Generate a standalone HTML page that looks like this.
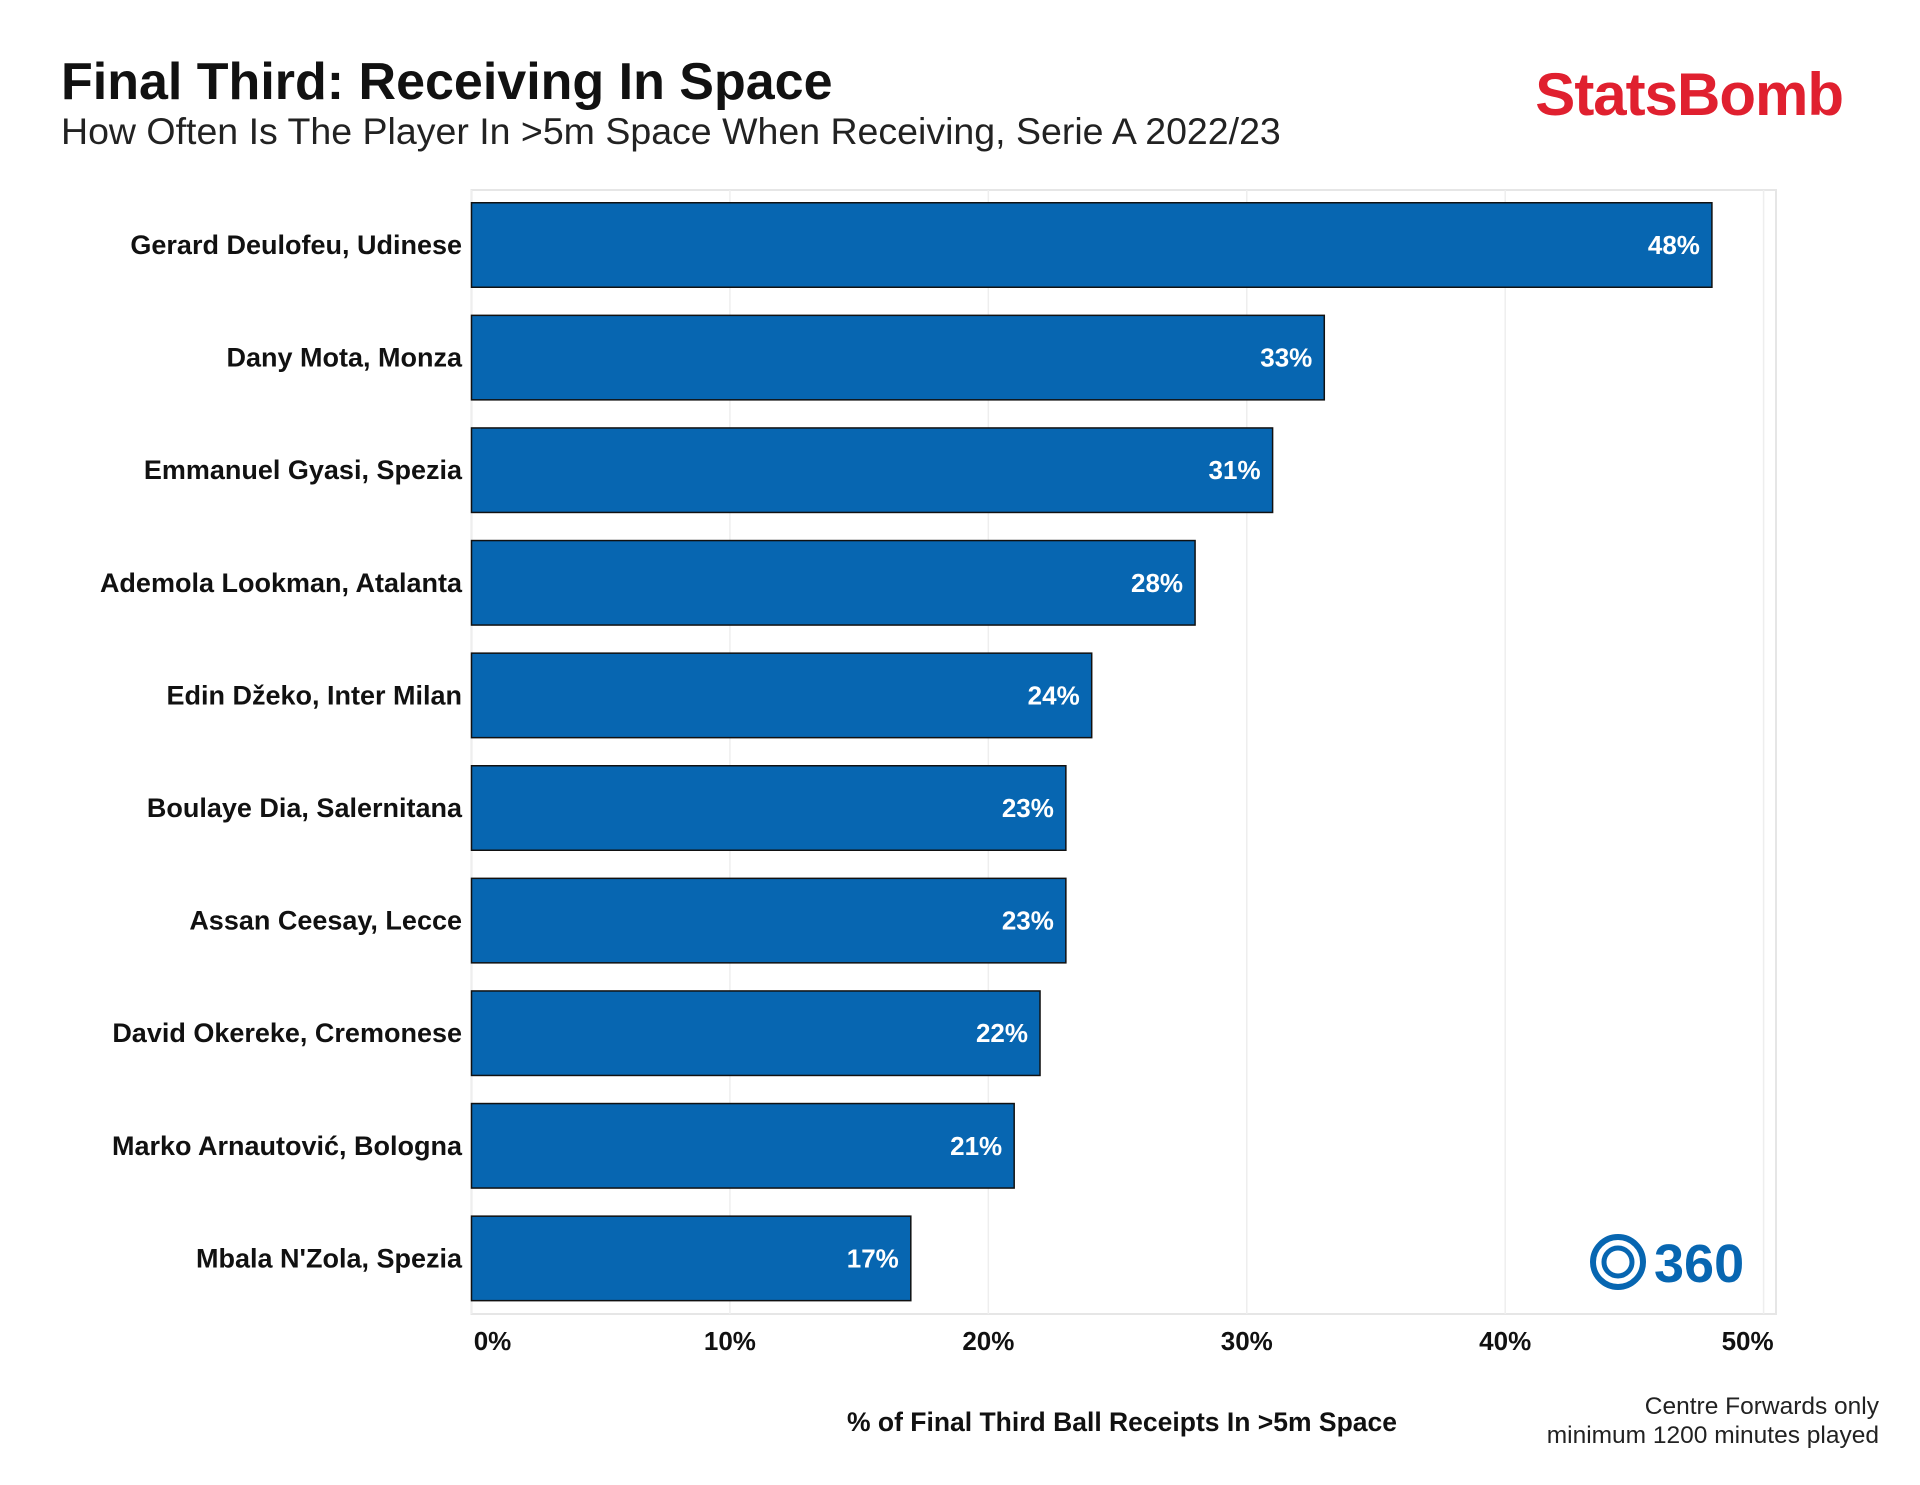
<!DOCTYPE html>
<html><head><meta charset="utf-8"><style>
body{margin:0;width:1920px;height:1485px;background:#fff;overflow:hidden;font-family:"Liberation Sans",sans-serif;}
svg{display:block}
</style></head><body>
<svg id="chart" width="1920" height="1485" xmlns="http://www.w3.org/2000/svg">
<text x="61" y="99" font-size="52" font-weight="bold" fill="#111">Final Third: Receiving In Space</text>
<text x="61" y="144" font-size="37.5" fill="#222">How Often Is The Player In &gt;5m Space When Receiving, Serie A 2022/23</text>
<text x="1843" y="115" text-anchor="end" font-size="60" font-weight="bold" fill="#e0202f" letter-spacing="-1">StatsBomb</text>
<rect x="471.5" y="190" width="1304.5" height="1124" fill="none" stroke="#e6e6e6" stroke-width="2"/>
<g id="grid"></g><g id="bars"></g><g id="labels"></g><g id="ticks"></g>
<g>
<circle cx="1618" cy="1262" r="25" fill="none" stroke="#0766b1" stroke-width="6"/>
<circle cx="1618" cy="1262" r="14" fill="none" stroke="#0766b1" stroke-width="5"/>
<text x="1654" y="1282" font-size="54" font-weight="bold" fill="#0766b1">360</text>
</g>
<text x="1122" y="1431" text-anchor="middle" font-size="26.5" font-weight="bold" fill="#111">% of Final Third Ball Receipts In &gt;5m Space</text>
<text x="1879" y="1414" text-anchor="end" font-size="24.5" fill="#222">Centre Forwards only</text>
<text x="1879" y="1443" text-anchor="end" font-size="24.5" fill="#222">minimum 1200 minutes played</text>
</svg>
<script>
const players=["Gerard Deulofeu, Udinese","Dany Mota, Monza","Emmanuel Gyasi, Spezia","Ademola Lookman, Atalanta","Edin Džeko, Inter Milan","Boulaye Dia, Salernitana","Assan Ceesay, Lecce","David Okereke, Cremonese","Marko Arnautović, Bologna","Mbala N'Zola, Spezia"];
const values=[48,33,31,28,24,23,23,22,21,17];
const ticks=[0,10,20,30,40,50];
const NS="http://www.w3.org/2000/svg";
const x=v=>471.5+v*(1763.6-471.5)/50;
const y=i=>245+i*112.6;
function mk(t,a,p,txt){const e=document.createElementNS(NS,t);for(const k in a)e.setAttribute(k,a[k]);if(txt!==undefined)e.textContent=txt;p.appendChild(e);return e;}
const G=document.getElementById('grid'),B=document.getElementById('bars'),L=document.getElementById('labels'),T=document.getElementById('ticks');
ticks.forEach((t,k)=>{
 const g=mk('line',{x1:x(t),x2:x(t),y1:190,y2:1314,stroke:'#eeeeee','stroke-width':1.5},G);
 
 
 const off=k===0?21:(k===ticks.length-1?-16:0);
 const tl=mk('text',{x:x(t)+off,y:1350,'text-anchor':'middle','font-size':26,'font-weight':'bold',fill:'#111'},T,t+'%');
 
 
});
players.forEach((p,i)=>{
 const r=mk('rect',{x:x(0),y:y(i)-42.25,width:x(values[i])-x(0),height:84.5,fill:'#0766b1',stroke:'#111','stroke-width':1.5},B);
 
 
 const v=mk('text',{x:x(values[i])-12,y:y(i)+9,'text-anchor':'end','font-size':26,'font-weight':'bold',fill:'#fff'},B,values[i]+'%');
 
 
 const n=mk('text',{x:462,y:y(i)+9,'text-anchor':'end','font-size':27,'font-weight':'bold',fill:'#111'},L,p);
 
 
});
</script>
</body></html>
